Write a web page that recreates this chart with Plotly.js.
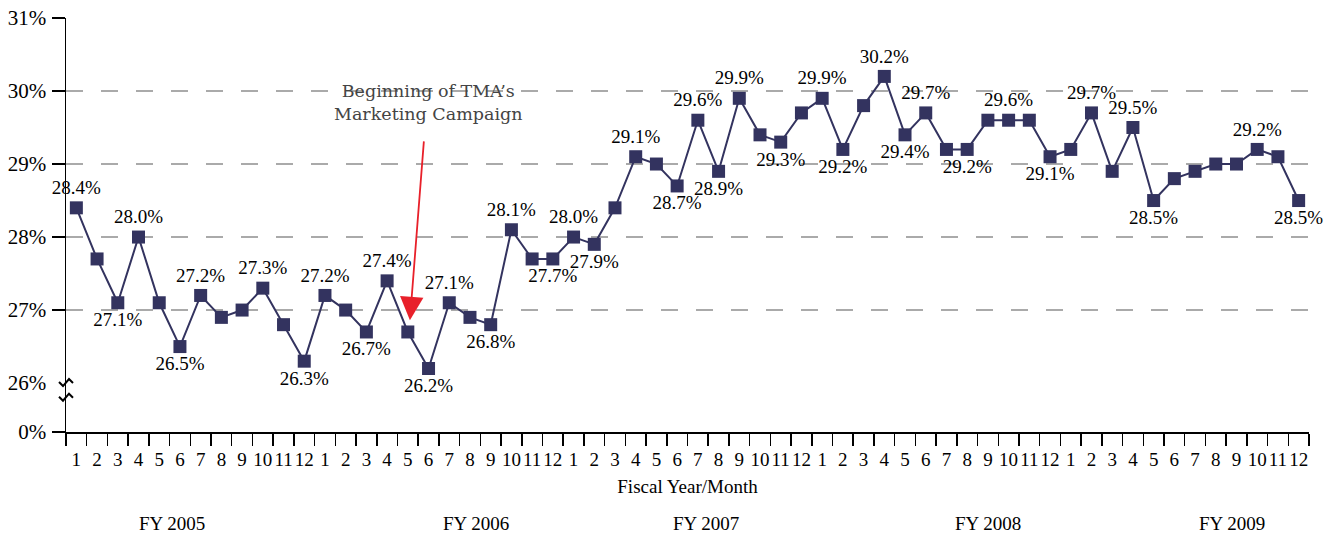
<!DOCTYPE html>
<html>
<head>
<meta charset="utf-8">
<script src="https://cdn.plot.ly/plotly-3.0.1.min.js"></script>
<style>html,body{margin:0;padding:0;background:#fff;}#chart{width:1339px;height:537px;}</style>
</head>
<body>
<div id="chart"></div>
<script>
// ---- data ----
const fiscalYears = ["FY 2005", "FY 2006", "FY 2007", "FY 2008", "FY 2009"];
const months = ["1","2","3","4","5","6","7","8","9","10","11","12"];
const values = [
  28.4, 27.7, 27.1, 28.0, 27.1, 26.5, 27.2, 26.9, 27.0, 27.3, 26.8, 26.3,
  27.2, 27.0, 26.7, 27.4, 26.7, 26.2, 27.1, 26.9, 26.8, 28.1, 27.7, 27.7,
  28.0, 27.9, 28.4, 29.1, 29.0, 28.7, 29.6, 28.9, 29.9, 29.4, 29.3, 29.7,
  29.9, 29.2, 29.8, 30.2, 29.4, 29.7, 29.2, 29.2, 29.6, 29.6, 29.6, 29.1,
  29.2, 29.7, 28.9, 29.5, 28.5, 28.8, 28.9, 29.0, 29.0, 29.2, 29.1, 28.5
];
// which points carry a value label: "T" above, "B" below, "" none
const labelSide = [
  "T","","B","T","","B","T","","","T","","B",
  "T","","B","T","","B","T","","B","T","","B",
  "T","B","","T","","B","T","B","T","","B","",
  "T","B","","T","B","T","","B","","T","","B",
  "","T","","T","B","","","","","T","","B"
];
const yTickLabels = ["0%","26%","27%","28%","29%","30%","31%"];
const campaignText = "Beginning of TMA’s<br>Marketing Campaign";
const campaignMonthIndex = 17; // FY2006 month 5 (1-based point number)

// ---- layout helpers ----
const n = values.length;
const xs = values.map((_, i) => i + 1);
const monthText = [];
fiscalYears.forEach(() => months.forEach(m => monthText.push(m)));
const labels = values.map((v, i) => labelSide[i] ? v.toFixed(1) + "%" : "");
const textPos = labelSide.map(s => s === "B" ? "bottom center" : "top center");

const yBreakBottom = 25.33;   // axis position labelled "0%"
const yTickVals = [yBreakBottom, 26, 27, 28, 29, 30, 31];
const gridVals = [yBreakBottom, 27, 28, 29, 30, 31];
const yearLabelX = [5.6, 20.3, 31.4, 45.0, 56.8];

const serif = "Liberation Serif";
const navy = "#33335f";

const traces = [
  {
    x: xs, y: values, type: "scatter", mode: "lines+markers+text",
    line: {color: navy, width: 2},
    marker: {symbol: "square", size: 13, color: navy},
    text: labels, textposition: textPos,
    textfont: {family: serif, size: 19, color: "#000"},
    cliponaxis: false, hoverinfo: "x+y", showlegend: false
  },
  { x: [], y: [], yaxis: "y2", type: "scatter", showlegend: false, hoverinfo: "skip" }
];

const annotations = [
  {
    xref: "x", yref: "y", x: 17.95, y: 29.84, text: campaignText, showarrow: false,
    font: {family: "DejaVu Serif", size: 17.5, color: "#444"}, align: "center"
  },
  {
    xref: "x", yref: "y", x: campaignMonthIndex + 0.1, y: 26.86,
    axref: "x", ayref: "y", ax: campaignMonthIndex + 0.78, ay: 29.33,
    text: "", showarrow: true, arrowhead: 2, arrowsize: 2.6, arrowwidth: 1.8, arrowcolor: "#e8202a"
  }
];
fiscalYears.forEach((fy, i) => annotations.push({
  xref: "x", yref: "paper", x: yearLabelX[i], y: -0.22, yanchor: "middle",
  text: fy, showarrow: false, font: {family: serif, size: 19, color: "#000"}
}));

const zig = "M-7,1 L-3,-3 L3,4 L7,0";
const shapes = [26, 25.8].map(v => ({
  type: "path", xref: "paper", yref: "y", xsizemode: "pixel", ysizemode: "pixel",
  xanchor: 0, yanchor: v, path: zig, line: {color: "#000", width: 2}
}));

const layout = {
  width: 1339, height: 537,
  margin: {l: 66, r: 30, t: 18, b: 105},
  paper_bgcolor: "#fff", plot_bgcolor: "#fff",
  font: {family: serif, color: "#000"},
  showlegend: false,
  xaxis: {
    range: [0.5, n + 0.5], tickmode: "array", tickvals: xs, ticktext: monthText,
    ticks: "outside", ticklen: 9, tickcolor: "rgba(0,0,0,0)",
    tickfont: {family: serif, size: 19, color: "#000"},
    minor: {tickmode: "linear", tick0: 0.5, dtick: 1, ticks: "outside", ticklen: 12, tickwidth: 1.5, tickcolor: "#000", showgrid: false},
    showline: true, linecolor: "#000", linewidth: 2, showgrid: false, zeroline: false,
    title: {text: "Fiscal Year/Month", font: {family: serif, size: 19, color: "#000"}, standoff: 11},
    automargin: false, fixedrange: true
  },
  yaxis: {
    range: [yBreakBottom, 31], tickmode: "array", tickvals: yTickVals, ticktext: yTickLabels,
    ticks: "outside", ticklen: 14, tickcolor: "rgba(0,0,0,0)",
    tickfont: {family: serif, size: 21, color: "#000"},
    showline: true, linecolor: "#000", linewidth: 1.5, showgrid: false, zeroline: false,
    automargin: false, fixedrange: true
  },
  yaxis2: {
    overlaying: "y", side: "left", anchor: "x",
    range: [yBreakBottom, 31], tickmode: "array", tickvals: gridVals,
    ticks: "outside", ticklen: 13, tickwidth: 1.5, tickcolor: "#000", showticklabels: false,
    showgrid: true, gridcolor: "#aaaaaa", gridwidth: 1.5, griddash: "17px,18px",
    showline: false, zeroline: false, fixedrange: true
  },
  annotations: annotations,
  shapes: shapes
};

Plotly.newPlot("chart", traces, layout, {displayModeBar: false, staticPlot: true});
</script>
</body>
</html>
